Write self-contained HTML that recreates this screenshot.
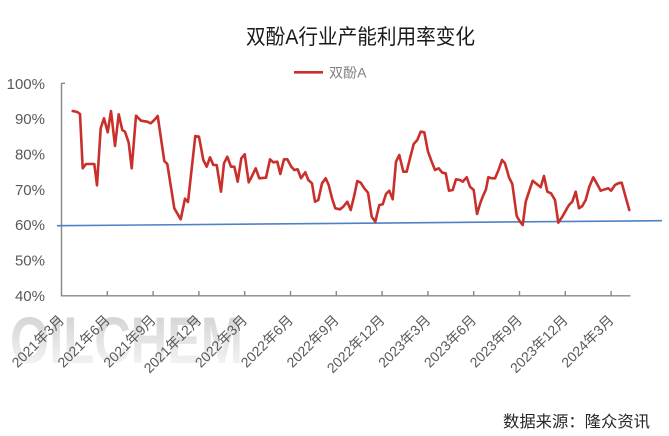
<!DOCTYPE html>
<html><head><meta charset="utf-8"><style>
html,body{margin:0;padding:0;background:#fff;}
svg{display:block;}
</style></head><body>
<svg width="669" height="436" viewBox="0 0 669 436" xmlns="http://www.w3.org/2000/svg">
<defs>
<linearGradient id="wm" x1="0" y1="0" x2="0" y2="1">
<stop offset="0" stop-color="#cdcdcd"/>
<stop offset="1" stop-color="#fafafa"/>
</linearGradient>
</defs>
<rect width="669" height="436" fill="#fff"/>
<!-- watermark -->
<text x="10" y="363" font-family="Liberation Sans, sans-serif" font-weight="bold" font-size="66" textLength="233" lengthAdjust="spacingAndGlyphs" fill="url(#wm)">OILCHEM</text>
<!-- title -->
<text x="246" y="44" font-family="Liberation Sans, Noto Sans CJK SC, sans-serif" font-size="21" textLength="229" lengthAdjust="spacingAndGlyphs" fill="#1a1a1a">双酚A行业产能利用率变化</text>
<!-- legend -->
<line x1="294" y1="72.3" x2="323" y2="72.3" stroke="#C9302C" stroke-width="2.6"/>
<text x="329" y="77.5" font-family="Liberation Sans, Noto Sans CJK SC, sans-serif" font-size="13.5" textLength="37.5" lengthAdjust="spacingAndGlyphs" fill="#808080">双酚A</text>
<!-- y labels -->
<g font-family="Liberation Sans, sans-serif" font-size="15" fill="#595959" text-anchor="end">
<text x="45" y="88.8">100%</text>
<text x="45" y="124.1">90%</text>
<text x="45" y="159.5">80%</text>
<text x="45" y="194.8">70%</text>
<text x="45" y="230.1">60%</text>
<text x="45" y="265.5">50%</text>
<text x="45" y="300.8">40%</text>
</g>
<!-- axes -->
<g stroke="#878787" stroke-width="1.4" fill="none">
<line x1="61.5" y1="83.3" x2="61.5" y2="296"/>
<line x1="61.5" y1="83.3" x2="65" y2="83.3"/>
<line x1="60.8" y1="295.8" x2="630.5" y2="295.8"/>
<line x1="107.3" y1="296" x2="107.3" y2="291"/>
<line x1="153.1" y1="296" x2="153.1" y2="291"/>
<line x1="198.9" y1="296" x2="198.9" y2="291"/>
<line x1="244.7" y1="296" x2="244.7" y2="291"/>
<line x1="290.5" y1="296" x2="290.5" y2="291"/>
<line x1="336.3" y1="296" x2="336.3" y2="291"/>
<line x1="382.1" y1="296" x2="382.1" y2="291"/>
<line x1="427.9" y1="296" x2="427.9" y2="291"/>
<line x1="473.7" y1="296" x2="473.7" y2="291"/>
<line x1="519.5" y1="296" x2="519.5" y2="291"/>
<line x1="565.3" y1="296" x2="565.3" y2="291"/>
<line x1="611.1" y1="296" x2="611.1" y2="291"/>
</g>
<!-- x labels -->
<g font-family="Liberation Sans, Noto Sans CJK SC, sans-serif" font-size="14" fill="#595959" text-anchor="end">
<text transform="translate(65,321) rotate(-45)">2021年3月</text>
<text transform="translate(110.8,321) rotate(-45)">2021年6月</text>
<text transform="translate(156.6,321) rotate(-45)">2021年9月</text>
<text transform="translate(202.4,321) rotate(-45)">2021年12月</text>
<text transform="translate(248.2,321) rotate(-45)">2022年3月</text>
<text transform="translate(294,321) rotate(-45)">2022年6月</text>
<text transform="translate(339.8,321) rotate(-45)">2022年9月</text>
<text transform="translate(385.6,321) rotate(-45)">2022年12月</text>
<text transform="translate(431.4,321) rotate(-45)">2023年3月</text>
<text transform="translate(477.2,321) rotate(-45)">2023年6月</text>
<text transform="translate(523,321) rotate(-45)">2023年9月</text>
<text transform="translate(568.8,321) rotate(-45)">2023年12月</text>
<text transform="translate(614.6,321) rotate(-45)">2024年3月</text>
</g>
<!-- blue line -->
<line x1="57" y1="225.7" x2="662" y2="220.7" stroke="#4F81C6" stroke-width="1.6"/>
<!-- red series -->
<polyline fill="none" stroke="#C9302C" stroke-width="2.6" stroke-linejoin="round" stroke-linecap="round" points="
72.7,111 77.3,112 80,114 82.7,168.3 86,164 94.3,164 97,185.3 100.7,128.3 104,118.3 107.7,132.3 111,111 115,146 118.7,114.3 122.3,130 125,131.7 128.7,142.7 131.7,168.3 136,115.7 141,120.7 147.3,121.7 150.7,123.3 154.3,120 157.7,116 164.3,161 167.3,164 174.3,208.3 180.7,219.3 185,198.7 188,202 195.3,136 199,136.7
203.3,160 206.7,166.7 210,157.3 213.3,165 216.7,165 221,191.7 224,163.3 227.3,156.7 231,166.7 234.3,166.7 237.7,181.7 241.3,158.3 244.7,154.3 248.7,182.3 251.7,176.7 255.7,168.3 259.3,178.3 266,177.7 270,159.3 273.3,162.3 277.3,161.7 280.3,174 284,159.3 287.3,159.3 291.3,166.7 294.3,170 297.7,169.3 301,178.3 305.3,172.3 308.3,180 312,183.3 315,201.7 318.3,200 322,183.3 325.7,178.3 328.7,185 332,198.3 335.3,208.3 340,209.3 343.3,206.7 347.3,201.7 350.7,210
354,196.7 357.3,181 360.7,182.7 364.3,188.3 368,192.7 371.7,216.7 375.3,221.7 379.3,205 382.7,204.3 386,194 389.3,190.7 392.7,199.3 396,161.7 399.3,155 403.3,171.7 406.7,171.7 410,158.3 413.7,144 417.3,140 420.7,131.7 424.3,132.3 428,151.7 431.7,161.7 435,170 438.7,168.3 442.3,172.7 445.7,173.3 449,190.7 452.7,190 456,179.3 460,180 462.7,181.7 466.7,177.3 470,186.7 473.7,190 477,214 480.3,203
482.7,196.7 486,189.3 488.3,177.3 491.7,178.3 495,178.3 498.3,170.7 502,160 505,163.3 509,177.3 512.3,184 516.7,216 520,221.7 522.7,225 525.7,201.7 529,191.7 532.7,180.7 536.7,184 540.7,187.3 544,176 547.3,191.7 551,193.3 555,200 558.3,222.7 562.3,216.7 565.7,210.7 569,205 572.3,201.7 575.7,191.7 579,208.3 582.3,206 585.7,200 589.3,186.7 593.3,177.3 596.7,183.3 600.7,190.7 605,189.3 608.3,188.3 611,190.7 615,185 618.3,183.3 621.7,182.7 626,198.3 629.3,210"/>
<!-- source -->
<text x="503" y="427" font-family="Liberation Sans, Noto Sans CJK SC, sans-serif" font-size="16" textLength="147" lengthAdjust="spacingAndGlyphs" fill="#262626">数据来源：隆众资讯</text>
</svg>
</body></html>
